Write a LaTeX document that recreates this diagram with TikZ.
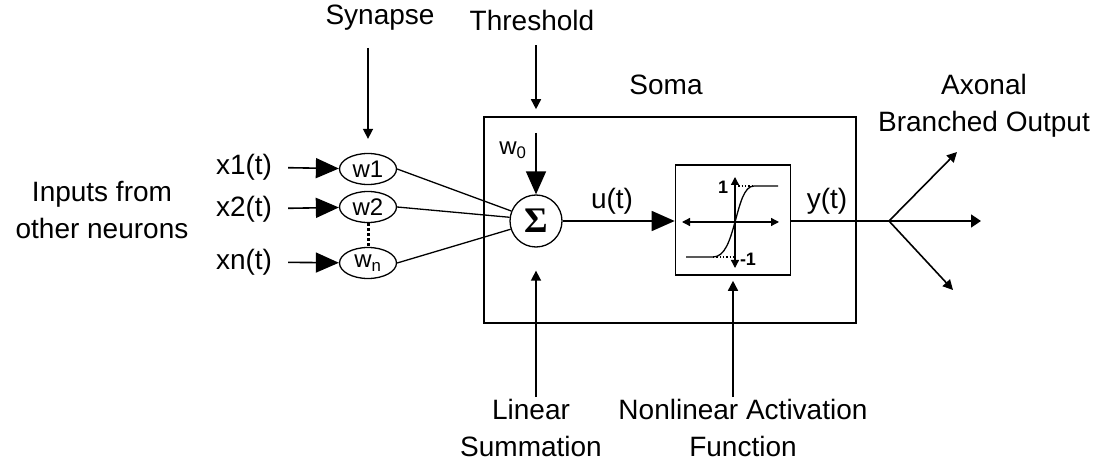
\documentclass[tikz,border=0pt]{standalone}
\usepackage{fontspec}
\setmainfont{Liberation Sans}
\newfontfamily\sigfont{Liberation Serif}
\usetikzlibrary{arrows.meta,positioning,calc,shapes.geometric}
\tikzset{
  lbl/.style={font=\fontsize{28}{37}\selectfont, align=center, inner sep=2pt},
  synbox/.style={draw, ellipse, line width=1.3pt, minimum width=57pt, minimum height=31pt,
    inner sep=0pt, font=\fontsize{24}{28}\selectfont},
  sumnode/.style={draw, circle, line width=1.3pt, minimum size=52pt, inner sep=0pt,
    font=\sigfont\bfseries\fontsize{36}{38}\selectfont},
  somabox/.style={draw, line width=1.6pt, minimum width=372pt, minimum height=206pt, inner sep=0pt},
  actbox/.style={draw, line width=1.6pt, minimum width=115pt, minimum height=110pt, inner sep=0pt},
  wire/.style={line width=1.3pt},
  bigarr/.style={-{Triangle[length=23pt, width=20pt]}, line width=1.6pt},
  smallarr/.style={-{Triangle[length=10pt, width=10pt]}, line width=1.6pt},
  axisarr/.style={{Triangle[length=8pt, width=8pt]}-{Triangle[length=8pt, width=8pt]}, line width=1.3pt},
  unitlbl/.style={font=\fontsize{18}{20}\selectfont\bfseries, inner sep=0pt},
}

\begin{document}
\begin{tikzpicture}[x=1pt, y=-1pt]
  \useasboundingbox (0,0) rectangle (1104,473);
  % ---- soma y bloques internos ----
  \node[somabox] (soma) at (670,220) {};
  \node[sumnode] (sig) at (536,221) {Σ};
  \node[actbox] (act) at (733,220) {};
  \node[lbl] (soml) at (666,85) {Soma};
  % ---- sinapsis ----
  \node[synbox] (syn1) at (368,169) {w1};
  \node[synbox] (syn2) at (368,207) {w2};
  \node[synbox] (synn) at (368,263) {w\textsubscript{n}};
  \node[lbl] (x1) at (244,167) {x1(t)};
  \node[lbl] (x2) at (244,209) {x2(t)};
  \node[lbl] (xn) at (244,262) {xn(t)};
  \node[lbl] (inl) at (102,210) {Inputs from\\other neurons};
  \draw[bigarr, shorten <=14pt] (x1) -- (syn1);
  \draw[bigarr, shorten <=14pt] (x2) -- (syn2);
  \draw[bigarr, shorten <=14pt] (xn) -- (synn);
  \draw[line width=3pt, dash pattern=on 2.5pt off 2.5pt] (syn2.south) -- (synn.north);
  \draw[wire] (syn1.east) -- (sig.158);
  \draw[wire] (syn2.east) -- (sig.172);
  \draw[wire] (synn.east) -- (sig.198);
  % ---- etiquetas superiores ----
  \node[lbl] (synl) at (380,18) {Synapse};
  \node[lbl] (thrl) at (532,20) {Threshold};
  \draw[smallarr, shorten <=15pt, shorten >=14pt] (synl.south -| syn1) -- (syn1.north);
  \draw[smallarr, shorten <=13pt, shorten >=7pt] (thrl.south -| sig) -- (sig |- soma.north);
  \coordinate (w0top) at (536,133);
  \node[lbl, font=\fontsize{24}{28}\selectfont] (w0l) at (513,150) {w\textsubscript{0}};
  \draw[bigarr] (w0top) -- (sig);
  % ---- u(t) y funcion de activacion ----
  \draw[bigarr] (sig) -- (sig -| act.west);
  \node[lbl] (ul) at (612,201) {u(t)};
  \coordinate (org) at (735,222);
  \draw[axisarr] ($(org)+(-53,0)$) -- ($(org)+(44,0)$);
  \draw[axisarr] ($(org)+(0,-45)$) -- ($(org)+(0,46)$);
  \draw[wire] ($(org)+(-49,35)$) -- ($(org)+(-22,35)$)
    .. controls ($(org)+(-10,35)$) and ($(org)+(-5,18)$) .. (org)
    .. controls ($(org)+(5,-18)$) and ($(org)+(9,-36)$) .. ($(org)+(19,-36)$)
    -- ($(org)+(43,-36)$);
  \draw[wire, dotted] ($(org)+(0,-36)$) -- ($(org)+(19,-36)$);
  \draw[wire, dotted] ($(org)+(-22,35)$) -- ($(org)+(0,35)$);
  \node[unitlbl] (onel) at ($(org)+(-12,-35)$) {1};
  \node[unitlbl] (monel) at ($(org)+(13,37)$) {-1};
  % ---- salida axonal ----
  \coordinate (branch) at (889,221);
  \coordinate (out1) at (957,152);
  \coordinate (out2) at (981,221);
  \coordinate (out3) at (953,290);
  \draw[wire, line width=1.6pt] (act.east |- branch) -- (branch);
  \node[lbl] (yl) at (827,201) {y(t)};
  \draw[smallarr] (branch) -- (out1);
  \draw[smallarr, -{Triangle[length=10pt, width=13pt]}] (branch) -- (out2);
  \draw[smallarr] (branch) -- (out3);
  \node[lbl] (axl) at (984,106) {Axonal\\Branched Output};
  % ---- etiquetas inferiores ----
  \node[lbl, anchor=north] (linl) at (531,397) {Linear\\Summation};
  \node[lbl, anchor=north] (actl) at (743,397) {Nonlinear Activation\\Function};
  \draw[smallarr] (linl.north -| sig) -- ([yshift=-23pt]sig.south);
  \draw[smallarr, shorten >=5pt] (actl.north -| act) -- (act.south);
\end{tikzpicture}
\end{document}
